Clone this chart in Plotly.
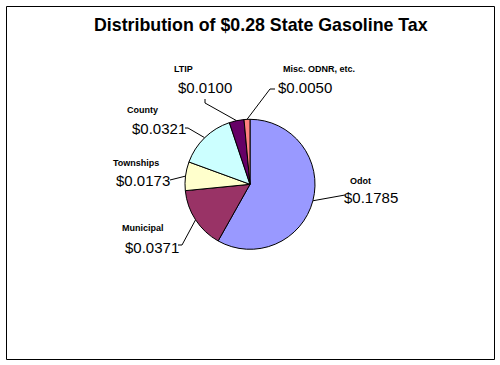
import math
import plotly.graph_objects as go

# ---- data ----
categories = ["Odot", "Municipal", "Townships", "County", "LTIP", "Misc. ODNR, etc."]
# slice sizes as drawn (cents per gallon)
slice_share = [16.29, 4.28, 2.00, 4.00, 1.03, 0.41]
# value labels shown next to the slices
label_values = ["$0.1785", "$0.0371", "$0.0173", "$0.0321", "$0.0100", "$0.0050"]
title_text = "Distribution of $0.28 State Gasoline Tax"

# ---- style / layout ----
colors = ["#9999FF", "#993366", "#FFFFCC", "#CCFFFF", "#660066", "#FF8080"]
W, H = 500, 365
CX, CY, R = 250, 184.3, 65
FONT = "Arial, Liberation Sans, sans-serif"
# label placement (pixels): name centre, value centre, leader elbow points
name_pos = [(360, 181), (143, 228), (136, 163), (142, 110), (183, 69), (319, 69)]
value_pos = [(370.5, 197), (152, 247), (143, 180), (159, 128), (204.5, 87), (305, 87)]
elbows = [
    [(345, 195)],
    [(182, 245), (178, 245)],
    [(170, 180)],
    [(188, 128), (185, 128)],
    [(205, 103), (205, 99)],
    [(270, 89), (275, 89)],
]

fig = go.Figure()

fig.add_trace(go.Pie(
    labels=categories,
    values=slice_share,
    sort=False,
    direction="clockwise",
    rotation=0,
    textinfo="none",
    hoverinfo="label+value",
    marker=dict(colors=colors, line=dict(color="black", width=1)),
    domain=dict(x=[(CX - R) / W, (CX + R) / W],
                y=[(H - CY - R) / H, (H - CY + R) / H]),
    showlegend=False,
))

# leader lines from the rim at each slice's middle angle
total = sum(slice_share)
cum = 0.0
for i, v in enumerate(slice_share):
    mid = (cum + v / 2) / total * 2 * math.pi
    cum += v
    px = CX + R * math.sin(mid)
    py = CY - R * math.cos(mid)
    xs = [px] + [p[0] for p in elbows[i]]
    ys = [py] + [p[1] for p in elbows[i]]
    fig.add_trace(go.Scatter(x=xs, y=ys, mode="lines",
                             line=dict(color="black", width=1),
                             hoverinfo="skip", showlegend=False))

annotations = [dict(x=261, y=25, text="<b>" + title_text + "</b>", showarrow=False,
                    xref="x", yref="y", xanchor="center", yanchor="middle",
                    font=dict(family=FONT, size=17.8, color="black"))]
for i, c in enumerate(categories):
    annotations.append(dict(x=name_pos[i][0], y=name_pos[i][1], text="<b>" + c + "</b>",
                            showarrow=False, xref="x", yref="y",
                            xanchor="center", yanchor="middle",
                            font=dict(family=FONT, size=9, color="black")))
    annotations.append(dict(x=value_pos[i][0], y=value_pos[i][1], text=label_values[i],
                            showarrow=False, xref="x", yref="y",
                            xanchor="center", yanchor="middle",
                            font=dict(family=FONT, size=15, color="black")))

fig.update_layout(
    width=W, height=H,
    margin=dict(l=0, r=0, t=0, b=0),
    paper_bgcolor="white", plot_bgcolor="white",
    xaxis=dict(range=[0, W], visible=False, fixedrange=True, domain=[0, 1]),
    yaxis=dict(range=[H, 0], visible=False, fixedrange=True, domain=[0, 1]),
    annotations=annotations,
    shapes=[dict(type="rect", xref="x", yref="y", x0=6.5, y0=6.5, x1=494.5, y1=359.5,
                 line=dict(color="black", width=1), fillcolor="rgba(0,0,0,0)")],
)

fig.write_html("out.html", config={"displayModeBar": False},
               post_script="document.body.style.margin='0';document.body.style.overflow='hidden';")
